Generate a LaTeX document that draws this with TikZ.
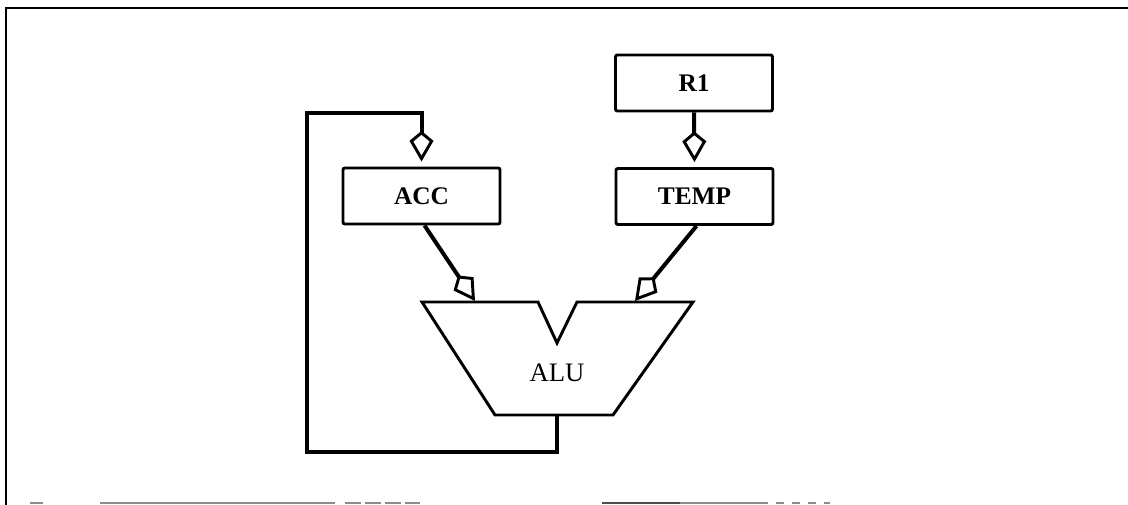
\documentclass[tikz,border=0pt]{standalone}
\usepackage{fontspec}
\setmainfont{Liberation Serif}
\usetikzlibrary{arrows.meta,calc}
\tikzset{
  regbox/.style={draw, line width=2.2pt, rounded corners=1.5pt, minimum width=117.75pt, minimum height=42pt, inner sep=0pt, font=\fontsize{19}{22}\selectfont\bfseries},
  bus/.style={line width=3pt, line join=miter, -{Kite[open, length=23pt, width=18pt, inset=7.5pt, line width=2.2pt]}},
  aluline/.style={line width=2.2pt, line join=miter},
  frameline/.style={line width=2pt},
  scanline/.style={line width=1.2pt, black!45}
}
\begin{document}
\begin{tikzpicture}[x=0.75pt,y=-0.75pt]
\useasboundingbox (0,0) rectangle (1128,505);
% frame
\draw[frameline] (6,505) -- (6,8) -- (1128,8);
\draw[scanline] (30,503) -- (43,503);
\draw[scanline] (100,503) -- (335,503);
\draw[scanline, dash pattern=on 12pt off 3pt] (345,503) -- (420,503);
\draw[scanline, black!70] (602,503) -- (680,503);
\draw[scanline] (680,503) -- (760,503);
\draw[scanline, dash pattern=on 6pt off 6pt] (760,503) -- (830,503);
% registers
\node[regbox] (R1) at (694,83) {R1};
\node[regbox] (TEMP) at (694.5,196.5) {TEMP};
\node[regbox] (ACC) at (421.5,196) {ACC};
% ALU
\coordinate (a1) at (422,302);
\coordinate (a2) at (538,302);
\coordinate (a3) at (557,343);
\coordinate (a4) at (577,302);
\coordinate (a5) at (693,302);
\coordinate (a6) at (613,415);
\coordinate (a7) at (495,415);
\draw[aluline] (a1) -- (a2) -- (a3) -- (a4) -- (a5) -- (a6) -- (a7) -- cycle;
\node[font=\fontsize{20}{24}\selectfont] (ALU) at (557,373) {ALU};
\coordinate (inA) at (475,301);
\coordinate (inB) at (635,301);
\coordinate (out) at (557,415);
% connectors
\draw[bus] (R1.south) -- ($(TEMP.north)+(0,-5)$);
\draw[bus] ($(ACC.south)+(3,0)$) -- (inA);
\draw[bus] ($(TEMP.south)+(2,0)$) -- (inB);
\coordinate (l1) at (557,452);
\coordinate (l2) at (307,452);
\coordinate (l3) at (307,113);
\coordinate (l4) at (421.5,113);
\draw[bus] (out) -- (l1) -- (l2) -- (l3) -- (l4) -- ($(ACC.north)+(0,-5)$);
\end{tikzpicture}
\end{document}
